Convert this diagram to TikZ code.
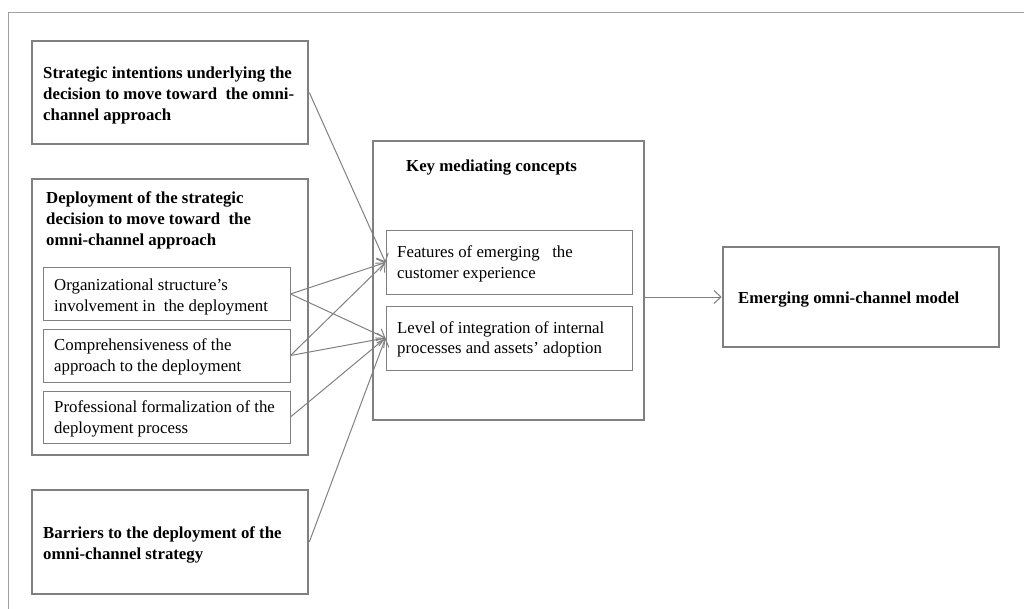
\documentclass[tikz,border=0pt]{standalone}
\usepackage{fontspec}
\setmainfont{Liberation Serif}
\usetikzlibrary{arrows.meta}
\definecolor{edgegray}{HTML}{808080}
\definecolor{framegray}{HTML}{A0A0A0}
\tikzset{
  heavybox/.style={draw=edgegray, line width=2.6pt, rectangle, inner sep=0pt},
  lightbox/.style={draw=edgegray, line width=1pt, rectangle, inner sep=0pt},
  boldtxt/.style={font=\fontsize{16.8}{21}\selectfont\bfseries, align=left, inner sep=0pt, anchor=west, yshift=-2.5pt},
  plaintxt/.style={font=\fontsize{16.8}{20.5}\selectfont, align=left, inner sep=0pt, anchor=west, yshift=-2pt},
  link/.style={draw=edgegray, line width=1pt, -{Straight Barb[length=7pt,width=13pt]}},
}
\begin{document}
\begin{tikzpicture}[x=1pt, y=-1pt]
\useasboundingbox (0,0) rectangle (1024,609);
% open outer frame
\draw[framegray, line width=0.8pt] (8,609) -- (8,12) -- (1024,12);

% left column: three heavy boxes
\node[heavybox, minimum width=276pt, minimum height=103pt] (intent) at (170,92.5) {};
\node[boldtxt] at (43,93) {Strategic intentions underlying the\\decision to move toward\ \ the omni-\\channel approach};

\node[heavybox, minimum width=276pt, minimum height=276pt] (deploy) at (170,317) {};
\node[boldtxt] at (46,218) {Deployment of the strategic\\decision to move toward\ \ the\\omni-channel approach};

\node[lightbox, minimum width=247pt, minimum height=52pt] (org) at (166.5,294) {};
\node[plaintxt] at (54,295) {Organizational structure's\\involvement in\ \ the deployment};
\node[lightbox, minimum width=247pt, minimum height=53pt] (comp) at (166.5,355.5) {};
\node[plaintxt] at (54,355) {Comprehensiveness of the\\approach to the deployment};
\node[lightbox, minimum width=247pt, minimum height=52pt] (prof) at (166.5,417) {};
\node[plaintxt] at (54,417) {Professional formalization of the\\deployment process};

\node[heavybox, minimum width=276pt, minimum height=104pt] (barrier) at (170,542) {};
\node[boldtxt] at (43,542) {Barriers to the deployment of the\\omni-channel strategy};

% middle column
\node[lightbox, line width=1.2pt, minimum width=271pt, minimum height=279pt] (keys) at (508.5,280.5) {};
\node[boldtxt] at (406,165) {Key mediating concepts};
\node[lightbox, minimum width=246pt, minimum height=63pt] (feat) at (509,262.5) {};
\node[plaintxt] at (397,262) {Features of emerging\ \ \ the\\customer experience};
\node[lightbox, minimum width=246pt, minimum height=64pt] (level) at (509,338) {};
\node[plaintxt] at (397,337.5) {Level of integration of internal\\processes and assets' adoption};

% right column
\node[heavybox, minimum width=276pt, minimum height=100pt] (model) at (861,297) {};
\node[boldtxt] at (738,297) {Emerging omni-channel model};

% connectors
\draw[link] (intent.east) -- (feat.west);
\draw[link] (org.east) -- (feat.west);
\draw[link] (org.east) -- (level.west);
\draw[link] (comp.east) -- (feat.west);
\draw[link] (comp.east) -- (level.west);
\draw[link] (prof.east) -- (level.west);
\draw[link] (barrier.east) -- (level.west);
\draw[link] (keys.east |- model.west) -- (model.west);
\end{tikzpicture}
\end{document}
